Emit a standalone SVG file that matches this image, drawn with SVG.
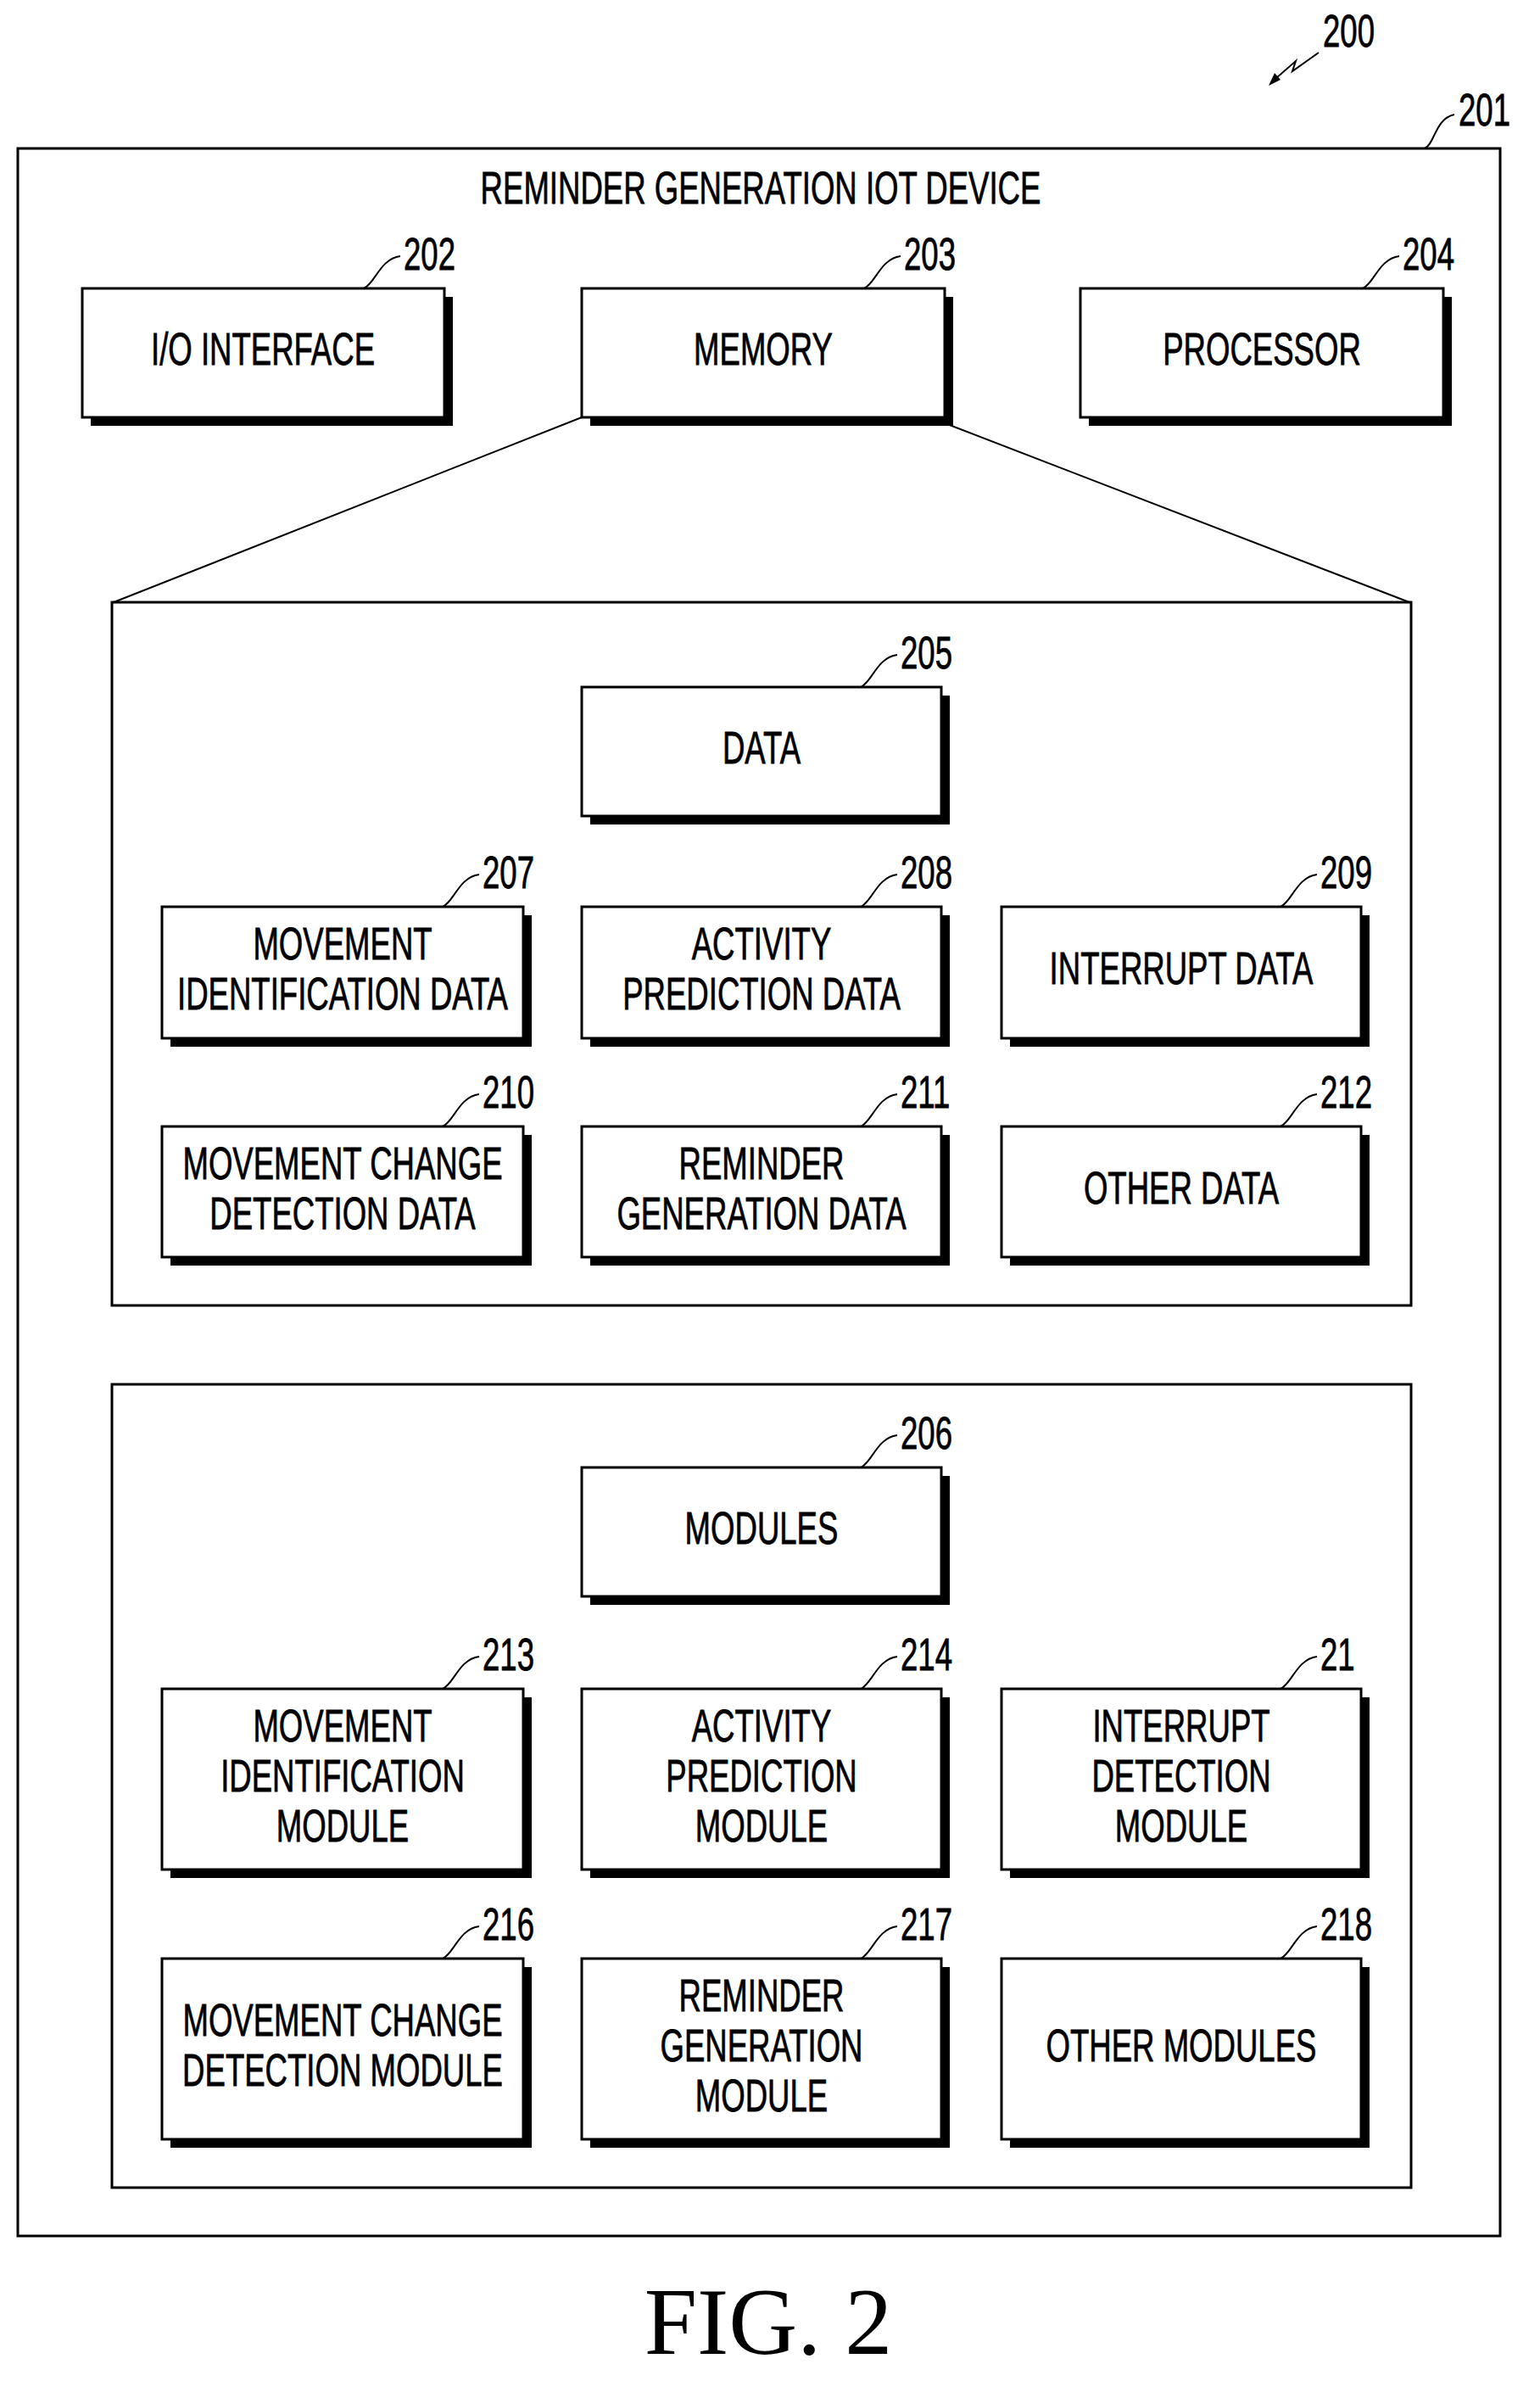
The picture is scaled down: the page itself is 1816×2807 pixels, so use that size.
<svg xmlns="http://www.w3.org/2000/svg" width="1816" height="2807" viewBox="0 0 1816 2807">
<style>
.b{fill:#fff;stroke:#000;stroke-width:3}
.s{fill:#000}
.c{fill:none;stroke:#000;stroke-width:3}
.l{fill:none;stroke:#000;stroke-width:2}
text{font-family:"Liberation Sans",Arial,sans-serif;font-size:53px;fill:#000;stroke:#000;stroke-width:0.8}
.m{text-anchor:middle}
</style>
<rect width="1816" height="2807" fill="#fff"/>
<g id="connectors">
<path class="l" d="M686 492 L134 710 M1117 500 L1662 710"/>
<path class="l" d="M1505 92 L1528 72 L1524 84 L1555 62"/>
<polygon points="1496,101 1503,86 1510,94" fill="#000"/>
<path class="l" d="M1680 175 C1692 170 1692 140 1715 135"/>
</g>
<g id="n200"><text transform="translate(1560 55) scale(0.69 1)">200</text></g>
<g id="n201"><rect class="c" x="21" y="175" width="1748" height="2461"/><text transform="translate(1720 148) scale(0.69 1)">201</text>
<text class="m" transform="translate(897 240) scale(0.69 1)">REMINDER GENERATION IOT DEVICE</text></g>

<g id="c-data"><rect class="c" x="132" y="710" width="1532" height="829"/></g>
<g id="c-mod"><rect class="c" x="132" y="1632" width="1532" height="947"/></g>

<g id="n202"><rect class="s" x="107" y="350" width="427" height="152"/><rect class="b" x="97" y="340" width="427" height="152"/>
<path class="l" d="M429 340 C442 335 448 305 472 302"/><text transform="translate(476 318) scale(0.69 1)">202</text>
<text class="m" transform="translate(310 430) scale(0.69 1)">I/O INTERFACE</text></g>
<g id="n203"><rect class="s" x="696" y="350" width="428" height="152"/><rect class="b" x="686" y="340" width="428" height="152"/>
<path class="l" d="M1019 340 C1032 335 1038 305 1062 302"/><text transform="translate(1066 318) scale(0.69 1)">203</text>
<text class="m" transform="translate(900 430) scale(0.69 1)">MEMORY</text></g>
<g id="n204"><rect class="s" x="1284" y="350" width="428" height="152"/><rect class="b" x="1274" y="340" width="428" height="152"/>
<path class="l" d="M1607 340 C1620 335 1626 305 1650 302"/><text transform="translate(1654 318) scale(0.69 1)">204</text>
<text class="m" transform="translate(1488 430) scale(0.69 1)">PROCESSOR</text></g>

<g id="n205"><rect class="s" x="696" y="820" width="424" height="152"/><rect class="b" x="686" y="810" width="424" height="152"/>
<path class="l" d="M1015 810 C1028 805 1034 775 1058 772"/><text transform="translate(1062 788) scale(0.69 1)">205</text>
<text class="m" transform="translate(898 900) scale(0.69 1)">DATA</text></g>

<g id="n207"><rect class="s" x="201" y="1079" width="426" height="155"/><rect class="b" x="191" y="1069" width="426" height="155"/>
<path class="l" d="M522 1069 C535 1064 541 1034 565 1031"/><text transform="translate(569 1047) scale(0.69 1)">207</text>
<text class="m" transform="translate(404 1131) scale(0.69 1)">MOVEMENT</text><text class="m" transform="translate(404 1190) scale(0.69 1)">IDENTIFICATION DATA</text></g>
<g id="n208"><rect class="s" x="696" y="1079" width="424" height="155"/><rect class="b" x="686" y="1069" width="424" height="155"/>
<path class="l" d="M1015 1069 C1028 1064 1034 1034 1058 1031"/><text transform="translate(1062 1047) scale(0.69 1)">208</text>
<text class="m" transform="translate(898 1131) scale(0.69 1)">ACTIVITY</text><text class="m" transform="translate(898 1190) scale(0.69 1)">PREDICTION DATA</text></g>
<g id="n209"><rect class="s" x="1191" y="1079" width="424" height="155"/><rect class="b" x="1181" y="1069" width="424" height="155"/>
<path class="l" d="M1510 1069 C1523 1064 1529 1034 1553 1031"/><text transform="translate(1557 1047) scale(0.69 1)">209</text>
<text class="m" transform="translate(1393 1160) scale(0.69 1)">INTERRUPT DATA</text></g>

<g id="n210"><rect class="s" x="201" y="1338" width="426" height="154"/><rect class="b" x="191" y="1328" width="426" height="154"/>
<path class="l" d="M522 1328 C535 1323 541 1293 565 1290"/><text transform="translate(569 1306) scale(0.69 1)">210</text>
<text class="m" transform="translate(404 1390) scale(0.69 1)">MOVEMENT CHANGE</text><text class="m" transform="translate(404 1449) scale(0.69 1)">DETECTION DATA</text></g>
<g id="n211"><rect class="s" x="696" y="1338" width="424" height="154"/><rect class="b" x="686" y="1328" width="424" height="154"/>
<path class="l" d="M1015 1328 C1028 1323 1034 1293 1058 1290"/><text transform="translate(1062 1306) scale(0.69 1)">211</text>
<text class="m" transform="translate(898 1390) scale(0.69 1)">REMINDER</text><text class="m" transform="translate(898 1449) scale(0.69 1)">GENERATION DATA</text></g>
<g id="n212"><rect class="s" x="1191" y="1338" width="424" height="154"/><rect class="b" x="1181" y="1328" width="424" height="154"/>
<path class="l" d="M1510 1328 C1523 1323 1529 1293 1553 1290"/><text transform="translate(1557 1306) scale(0.69 1)">212</text>
<text class="m" transform="translate(1393 1419) scale(0.69 1)">OTHER DATA</text></g>

<g id="n206"><rect class="s" x="696" y="1740" width="424" height="152"/><rect class="b" x="686" y="1730" width="424" height="152"/>
<path class="l" d="M1015 1730 C1028 1725 1034 1695 1058 1692"/><text transform="translate(1062 1708) scale(0.69 1)">206</text>
<text class="m" transform="translate(898 1820) scale(0.69 1)">MODULES</text></g>

<g id="n213"><rect class="s" x="201" y="2001" width="426" height="213"/><rect class="b" x="191" y="1991" width="426" height="213"/>
<path class="l" d="M522 1991 C535 1986 541 1956 565 1953"/><text transform="translate(569 1969) scale(0.69 1)">213</text>
<text class="m" transform="translate(404 2053) scale(0.69 1)">MOVEMENT</text><text class="m" transform="translate(404 2112) scale(0.69 1)">IDENTIFICATION</text><text class="m" transform="translate(404 2171) scale(0.69 1)">MODULE</text></g>
<g id="n214"><rect class="s" x="696" y="2001" width="424" height="213"/><rect class="b" x="686" y="1991" width="424" height="213"/>
<path class="l" d="M1015 1991 C1028 1986 1034 1956 1058 1953"/><text transform="translate(1062 1969) scale(0.69 1)">214</text>
<text class="m" transform="translate(898 2053) scale(0.69 1)">ACTIVITY</text><text class="m" transform="translate(898 2112) scale(0.69 1)">PREDICTION</text><text class="m" transform="translate(898 2171) scale(0.69 1)">MODULE</text></g>
<g id="n215"><rect class="s" x="1191" y="2001" width="424" height="213"/><rect class="b" x="1181" y="1991" width="424" height="213"/>
<path class="l" d="M1510 1991 C1523 1986 1529 1956 1553 1953"/><text transform="translate(1557 1969) scale(0.69 1)">21</text>
<text class="m" transform="translate(1393 2053) scale(0.69 1)">INTERRUPT</text><text class="m" transform="translate(1393 2112) scale(0.69 1)">DETECTION</text><text class="m" transform="translate(1393 2171) scale(0.69 1)">MODULE</text></g>

<g id="n216"><rect class="s" x="201" y="2319" width="426" height="213"/><rect class="b" x="191" y="2309" width="426" height="213"/>
<path class="l" d="M522 2309 C535 2304 541 2274 565 2271"/><text transform="translate(569 2287) scale(0.69 1)">216</text>
<text class="m" transform="translate(404 2400) scale(0.69 1)">MOVEMENT CHANGE</text><text class="m" transform="translate(404 2459) scale(0.69 1)">DETECTION MODULE</text></g>
<g id="n217"><rect class="s" x="696" y="2319" width="424" height="213"/><rect class="b" x="686" y="2309" width="424" height="213"/>
<path class="l" d="M1015 2309 C1028 2304 1034 2274 1058 2271"/><text transform="translate(1062 2287) scale(0.69 1)">217</text>
<text class="m" transform="translate(898 2371) scale(0.69 1)">REMINDER</text><text class="m" transform="translate(898 2430) scale(0.69 1)">GENERATION</text><text class="m" transform="translate(898 2489) scale(0.69 1)">MODULE</text></g>
<g id="n218"><rect class="s" x="1191" y="2319" width="424" height="213"/><rect class="b" x="1181" y="2309" width="424" height="213"/>
<path class="l" d="M1510 2309 C1523 2304 1529 2274 1553 2271"/><text transform="translate(1557 2287) scale(0.69 1)">218</text>
<text class="m" transform="translate(1393 2430) scale(0.69 1)">OTHER MODULES</text></g>

<text class="m" x="906" y="2775" style="font-family:'Liberation Serif','Times New Roman',serif;font-size:112px;stroke:none">FIG. 2</text>
</svg>
